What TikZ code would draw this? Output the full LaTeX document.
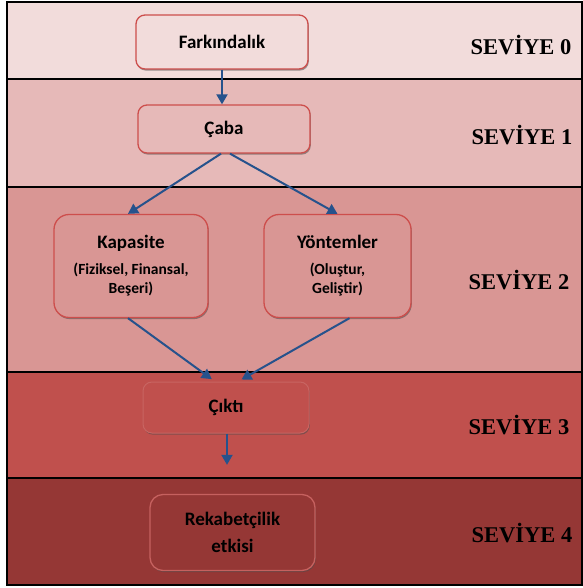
\documentclass[tikz,border=0pt]{standalone}
\usepackage{fontspec}
\usepackage{xcolor}
\usepackage{tikz}
\usetikzlibrary{positioning,arrows.meta,shadows}

\newfontfamily\boxfont{Carlito}
\newfontfamily\levelfont{Liberation Serif}
\newcommand\subf{\fontsize{15.5}{19}\selectfont}

\definecolor{band0}{RGB}{242,220,219}
\definecolor{band1}{RGB}{230,185,184}
\definecolor{band2}{RGB}{217,150,148}
\definecolor{band3}{RGB}{192,80,77}
\definecolor{band4}{RGB}{149,55,53}
\definecolor{boxline}{RGB}{205,78,76}
\definecolor{arrowblue}{RGB}{38,82,140}

\tikzset{
	levelbox/.style={rounded corners=9pt, draw=boxline, line width=1.3pt, align=center, inner sep=0pt,
		drop shadow={shadow xshift=0.8pt, shadow yshift=-1.6pt, opacity=0.55, fill=black!70},
		font=\boxfont\bfseries\fontsize{19}{19}\selectfont},
	bigbox/.style={levelbox, rounded corners=15pt, minimum width=#1, minimum height=103pt},
	conn/.style={draw=arrowblue, line width=2pt, -{Triangle[width=11pt,length=10pt]}},
	levellabel/.style={font=\levelfont\bfseries\fontsize{22.5}{26}\selectfont},
	bandline/.style={line width=1.6pt}
}

\begin{document}
\begin{tikzpicture}[x=1pt, y=-1pt]
	\useasboundingbox (0,0) rectangle (582,588);
	\fill[band0] (7,2) rectangle (582,79);
	\fill[band1] (7,79) rectangle (582,187);
	\fill[band2] (7,187) rectangle (582,372);
	\fill[band3] (7,372) rectangle (582,478);
	\fill[band4] (7,478) rectangle (582,585);
	\draw[bandline] (7,2) rectangle (582,585);
	\foreach \y in {79,187,372,478}
		\draw[bandline] (7,\y) -- (582,\y);

	\node[levelbox, fill=band0, minimum width=172pt, minimum height=54pt] (fark) at (222,42) {Farkındalık};
	\node[levelbox, fill=band1, minimum width=172pt, minimum height=48pt] (caba) at (224,129) {Çaba};
	\node[bigbox=154pt, fill=band2] (kap) at (131,266) {Kapasite\\[7pt]\subf (Fiziksel, Finansal,\\\subf Beşeri)};
	\node[bigbox=147pt, fill=band2] (yon) at (337.5,266) {Yöntemler\\[7pt]\subf (Oluştur,\\\subf Geliştir)};
	\node[levelbox, fill=band3, draw=band3!88!white, line width=1pt, minimum width=166pt, minimum height=51pt] (cikti) at (226,407.5) {Çıktı};
	\node[levelbox, fill=band4, draw=band3!90!white, rounded corners=13pt, minimum width=165pt, minimum height=76pt] (rek) at (232.5,532.5) {Rekabetçilik\\[8pt]etkisi};

	\node[levellabel] (s0) at (521,45) {SEVİYE 0};
	\node[levellabel] (s1) at (522,135) {SEVİYE 1};
	\node[levellabel] (s2) at (519,280) {SEVİYE 2};
	\node[levellabel] (s3) at (519,425) {SEVİYE 3};
	\node[levellabel] (s4) at (522,533) {SEVİYE 4};

	\draw[conn] (fark.south) -- (fark.south |- caba.north);
	\draw[conn] ([xshift=-3pt]caba.south) -- ([xshift=-3pt]kap.north);
	\draw[conn] ([xshift=6pt]caba.south) -- (yon.north);
	\draw[conn, shorten >=4pt] ([xshift=-3pt]kap.south) -- ([xshift=-11pt]cikti.north);
	\draw[conn, shorten >=4pt] ([xshift=12pt]yon.south) -- ([xshift=12pt]cikti.north);
	\draw[conn, shorten >=29pt] ([xshift=1pt]cikti.south) -- ([xshift=1pt]cikti.south |- rek.north);
\end{tikzpicture}
\end{document}
